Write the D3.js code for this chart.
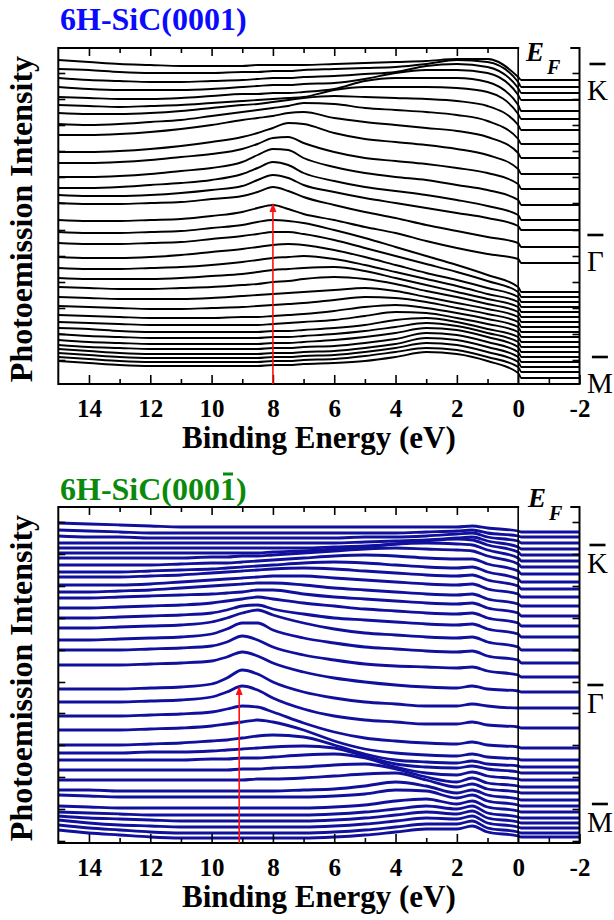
<!DOCTYPE html>
<html><head><meta charset="utf-8">
<script src="https://cdn.jsdelivr.net/npm/d3@7"></script>
<style>body{margin:0;background:#fff} svg{display:block}</style>
</head><body>
<svg id="c" width="614" height="920"></svg>
<script>
// ---------------- DATA ----------------
const energyTicksMajor = [14,12,10,8,6,4,2,0,-2];
const energyTicksMinor = [13,11,9,7,5,3,1,-1];
const pointLabels = ["K","Γ","M"];
const titleTop = "6H-SiC(0001)";
const titleBottom = "6H-SiC(0001)";
const xTitle = "Binding Energy (eV)";
const yTitle = "Photoemission Intensity";

// top panel (0001): energies (eV) of the sampled points
const energiesTop = [15,14,13,12,11,10,9,8.5,8,7.5,7,6,5,4,3,2,1,0,-0.1,-2];
// baseline offset of each spectrum (arbitrary units)
const offsetsTop = [304,297,291,284,273,265,254,240,226,210,195,179,164,154,137,121,92,87,82,77,72,67,62,57,52,47,42,37,32,27,22,17,12,6];
const spectraTop = [
[20,18,16,15,14,14,14,15,15,15,15,16,17,18,19,21,21,3,0,0],
[18,17,15,14,14,14,15,15,16,16,17,18,19,20,23,27,25,5,0,0],
[15,13,12,11,11,12,13,14,15,15,16,17,19,21,27,29,26,5,0,0],
[13,11,10,10,10,11,13,14,15,15,16,17,21,27,30,30,27,5,0,0],
[14,13,12,12,13,15,17,17,18,18,19,22,30,33,33,33,29,6,0,0],
[14,13,12,13,14,16,18,19,20,21,22,29,32,32,32,31,27,5,0,0],
[17,16,16,17,19,22,25,26,28,30,32,34,33,32,31,29,24,5,0,0],
[20,19,20,22,24,28,32,34,36,38,41,40,36,34,32,29,23,5,0,0],
[23,23,24,26,29,33,38,40,42,45,46,40,36,33,30,27,21,5,0,0],
[22,22,23,25,28,32,37,41,46,51,50,41,35,32,29,25,19,5,0,0],
[26,26,27,29,32,35,40,45,51,52,46,37,31,28,25,21,16,5,0,0],
[28,28,29,31,34,37,43,50,56,55,47,38,32,28,25,20,15,5,0,0],
[32,32,33,35,37,40,46,52,58,55,47,39,33,29,25,20,14,5,0,0],
[35,34,34,35,37,40,44,50,55,52,45,38,32,27,22,17,12,4,0,0],
[44,43,43,44,45,48,51,55,60,56,50,42,35,29,22,16,10,4,0,0],
[43,42,42,43,44,47,51,55,58,54,49,43,36,30,22,15,9,4,0,0],
[60,59,59,60,61,64,67,70,72,71,69,62,54,45,36,27,17,5,0,0],
[54,53,53,54,55,58,61,63,65,65,63,57,49,41,33,25,16,5,0,0],
[45,44,44,45,47,50,53,55,57,58,57,52,45,37,29,22,14,5,0,0],
[39,38,38,39,40,42,45,47,49,50,51,48,42,35,28,21,13,5,0,0],
[34,33,33,33,34,36,38,40,42,43,44,45,41,34,27,20,13,5,0,0],
[30,29,28,28,29,30,32,33,35,36,38,40,38,33,26,20,13,5,0,0],
[25,24,23,23,23,24,26,27,28,29,30,32,34,31,25,19,13,5,0,0],
[21,20,19,18,18,19,20,21,22,23,24,27,30,29,25,19,13,5,0,0],
[17,16,15,14,14,14,15,15,16,17,18,21,25,27,24,19,13,5,0,0],
[15,14,13,12,12,12,12,12,13,14,15,17,21,25,24,19,13,5,0,0],
[14,13,11,10,10,10,10,10,11,11,12,14,17,22,24,20,13,5,0,0],
[13,11,10,9,9,9,9,9,10,10,11,13,16,20,24,21,14,5,0,0],
[12,10,9,8,8,8,8,8,9,9,10,12,15,19,24,22,15,5,0,0],
[12,10,9,8,8,8,8,8,9,9,10,11,14,18,24,22,15,5,0,0],
[13,11,9,8,8,8,8,8,9,9,10,11,14,18,24,22,15,5,0,0],
[14,12,10,9,9,9,9,9,10,10,11,12,15,19,24,22,15,5,0,0],
[15,13,11,10,10,10,10,10,11,11,12,13,16,20,24,22,15,5,0,0],
[17,15,13,12,12,12,12,12,13,13,14,15,17,21,26,24,17,5,0,0]
];
const yTicksTop = [24,50,76,102,128,154,181,207,233,259,285,311];
const arrowTop = {energy: 8.0, tip: 181};

// bottom panel (000-1)
const energiesBottom = [15,14,13,12,11,10,9.5,9,8.5,8,7,6,5,4,3,2,1.5,1,0,-0.1,-2];
const offsetsBottom = [311,306,300,294,288,282,276,269,261,254,246,237,227,217,206,193,180,166,151,135,115,95,83,76,70,63,56,50,43,37,31,25,20,15,10,6];
const spectraBottom = [
[9,8,7,6,5,5,5,5,5,5,5,5,5,5,5,5,6,4,1,0,0],
[7,6,5,4,4,4,4,4,4,4,4,4,4,4,5,6,7,4,1,0,0],
[7,6,6,5,5,5,5,5,5,5,5,5,6,6,7,9,10,6,2,0,0],
[6,6,6,6,6,6,6,6,6,6,6,6,7,8,9,11,12,8,2,0,0],
[7,7,7,7,7,7,7,7,7,7,7,8,9,11,14,16,15,10,3,0,0],
[8,8,8,8,8,8,8,8,8,9,10,12,14,17,18,17,16,11,3,0,0],
[9,9,9,9,9,10,10,11,11,12,14,16,18,19,18,17,16,11,3,0,0],
[9,9,9,9,10,11,11,12,13,14,16,18,19,18,16,15,15,10,3,0,0],
[10,10,10,11,12,13,14,15,16,17,19,20,19,17,15,14,15,10,3,0,0],
[12,12,12,13,14,16,17,18,19,20,21,20,18,16,14,13,14,9,3,0,0],
[12,12,12,13,15,17,18,19,20,21,21,19,17,15,13,12,13,8,3,0,0],
[14,14,15,16,18,20,21,22,23,23,21,18,16,14,12,11,12,7,2,0,0],
[18,18,19,20,21,22,23,24,26,26,22,19,17,15,13,12,13,8,3,0,0],
[18,18,19,20,21,23,25,27,29,27,23,20,17,15,13,12,13,8,3,0,0],
[19,19,20,21,22,24,27,31,32,28,23,19,17,15,13,12,13,8,3,0,0],
[22,22,23,24,25,28,32,37,40,35,27,21,17,15,13,12,13,8,3,0,0],
[23,23,24,25,26,29,34,40,40,33,25,20,16,14,12,11,12,7,3,0,0],
[27,27,27,28,29,31,35,41,37,30,22,17,13,11,10,9,10,6,2,0,0],
[27,27,27,28,29,31,35,40,36,29,20,14,10,7,5,4,6,3,1,0,0],
[19,19,19,20,21,24,30,38,34,26,16,10,6,4,2,2,4,2,0,0,0],
[26,26,26,27,28,31,36,42,38,30,19,12,8,6,4,4,6,3,1,0,0],
[32,32,32,33,34,36,39,42,41,36,25,16,10,7,5,4,6,3,1,0,0],
[30,30,30,31,32,34,36,38,40,38,30,19,11,7,5,4,6,3,1,0,0],
[22,22,22,23,24,26,27,29,31,32,30,22,13,7,5,4,6,3,1,0,0],
[20,20,20,21,21,22,23,24,25,26,27,25,17,9,6,5,7,4,1,0,0],
[20,20,20,20,20,21,21,22,22,23,25,26,22,13,7,5,8,4,1,0,0],
[17,17,17,17,17,17,17,18,18,19,20,22,23,18,10,5,9,4,1,0,0],
[13,13,13,13,13,13,13,13,14,14,15,17,19,20,13,6,9,4,1,0,0],
[10,10,9,9,9,9,9,9,9,9,10,11,14,18,14,7,10,5,1,0,0],
[11,10,9,9,9,9,9,9,9,9,9,10,12,16,15,8,11,5,1,0,0],
[6,5,4,4,4,4,4,4,4,4,4,5,7,11,13,8,11,5,1,0,0],
[6,5,4,3,3,3,3,3,3,3,3,4,6,9,12,9,12,5,1,0,0],
[7,5,4,3,2,2,2,2,2,2,2,3,5,8,11,9,12,5,1,0,0],
[8,5,3,2,1,1,1,1,1,1,1,2,4,7,10,9,12,5,1,0,0],
[8,5,3,1,0,0,0,0,0,0,0,1,3,6,9,9,12,5,1,0,0],
[7,4,2,0,-1,-1,-1,-1,-1,-1,-1,0,2,5,8,8,11,5,1,0,0]
];
const yTicksBottom = [2,34,66,98,130,161,193,225,257,289,321];
const arrowBottom = {energy: 9.1, tip: 157};

// ---------------- DRAWING ----------------
const svg = d3.select("#c");
const SERIF = "'Liberation Serif','Times New Roman',serif";
const x = d3.scaleLinear().domain([15,-2]).range([58.3,579.5]);

function panel(cfg){
  const y = d3.scaleLinear().domain([0,336]).range([cfg.bottom, cfg.top]);
  const g = svg.append("g");
  const line = d3.line()
    .x((d,i)=>x(cfg.energies[i]))
    .y(d=>y(d))
    .curve(d3.curveMonotoneX);
  const series = cfg.spectra.map((s,i)=>s.map(h=>h+cfg.offsets[i]));
  g.append("g").selectAll("path").data(series).join("path")
    .attr("d", line)
    .attr("fill","none")
    .attr("stroke", cfg.color)
    .attr("stroke-width", cfg.sw)
    .attr("stroke-linejoin","round");

  // E = 0 line
  g.append("line").attr("x1",x(0)).attr("x2",x(0))
    .attr("y1",cfg.top).attr("y2",cfg.bottom)
    .attr("stroke","#000").attr("stroke-width",1.6);

  // axes
  const bottomMajor = d3.axisBottom(x).tickValues(energyTicksMajor).tickSize(-9)
    .tickPadding(15).tickFormat(d=>String(d));
  const bottomMinor = d3.axisBottom(x).tickValues(energyTicksMinor).tickSize(-5).tickFormat("");
  const ab = g.append("g").attr("transform",`translate(0,${cfg.bottom})`).call(bottomMajor);
  ab.selectAll("text").attr("font-family",SERIF).attr("font-weight","bold")
    .attr("font-size",25).attr("fill","#000");
  g.append("g").attr("transform",`translate(0,${cfg.bottom})`).call(bottomMinor);
  const topMajor = d3.axisTop(x).tickValues(energyTicksMajor.filter(d=>d>0)).tickSize(-8).tickFormat("");
  const topMinor = d3.axisTop(x).tickValues(energyTicksMinor.filter(d=>d>0)).tickSize(-5).tickFormat("");
  g.append("g").attr("transform",`translate(0,${cfg.top})`).call(topMajor);
  g.append("g").attr("transform",`translate(0,${cfg.top})`).call(topMinor);
  const left = d3.axisLeft(y).tickValues(cfg.yTicks).tickSize(-7).tickFormat("");
  const right = d3.axisRight(y).tickValues(cfg.yTicks).tickSize(-7).tickFormat("");
  g.append("g").attr("transform",`translate(${x(15)},0)`).call(left);
  g.append("g").attr("transform",`translate(${x(-2)},0)`).call(right);
  g.selectAll(".domain").remove();
  g.selectAll(".tick line").attr("stroke","#000").attr("stroke-width",1.6);

  // frame
  g.append("rect").attr("x",x(15)).attr("y",cfg.top)
    .attr("width",x(-2)-x(15)).attr("height",cfg.bottom-cfg.top)
    .attr("fill","none").attr("stroke","#000").attr("stroke-width",2);
  // gap in frame for E_F
  g.append("rect").attr("x",x(0)+1).attr("y",cfg.top-4)
    .attr("width",x(-1.7)-x(0)-1).attr("height",8).attr("fill","#fff");
  g.append("text").attr("x",cfg.efx).attr("y",cfg.efy)
    .attr("font-family",SERIF).attr("font-weight","bold").attr("font-style","italic")
    .attr("font-size",27).text("E");
  g.append("text").attr("x",cfg.efx+21).attr("y",cfg.efy+13)
    .attr("font-family",SERIF).attr("font-weight","bold").attr("font-style","italic")
    .attr("font-size",20).text("F");

  // arrow
  const ax = x(cfg.arrow.energy), ay = y(cfg.arrow.tip);
  g.append("line").attr("x1",ax).attr("x2",ax).attr("y1",cfg.bottom).attr("y2",ay+6)
    .attr("stroke","#ff1010").attr("stroke-width",1.6);
  g.append("path").attr("d",`M${ax},${ay} L${ax-3.5},${ay+9} L${ax+3.5},${ay+9} Z`)
    .attr("fill","#ff1010");

  // titles
  const tt = g.append("text").attr("x",60).attr("y",cfg.titleY)
    .attr("font-family",SERIF).attr("font-weight","bold").attr("font-size",32)
    .attr("fill",cfg.titleColor).text(cfg.title);
  if(cfg.barLast){
    const n = cfg.title.length-2;
    const ex = tt.node().getExtentOfChar(n);
    g.append("line").attr("x1",ex.x+3).attr("x2",ex.x+ex.width-3)
      .attr("y1",cfg.titleY-26).attr("y2",cfg.titleY-26)
      .attr("stroke",cfg.titleColor).attr("stroke-width",3);
  }
  g.append("text").attr("x",(x(15)+x(-2))/2).attr("y",cfg.bottom+64)
    .attr("text-anchor","middle").attr("font-family",SERIF).attr("font-weight","bold")
    .attr("font-size",31).text(xTitle);
  g.append("text").attr("transform",`translate(32,${(cfg.top+cfg.bottom)/2+3}) rotate(-90)`)
    .attr("text-anchor","middle").attr("font-family",SERIF).attr("font-weight","bold")
    .attr("font-size",32).text(yTitle);

  // symmetry points
  pointLabels.forEach((lab,i)=>{
    const by = cfg.labelY[i];
    const t = g.append("text").attr("x",587).attr("y",by)
      .attr("font-family",SERIF).attr("font-size",29).text(lab);
    const bb = t.node().getBBox();
    const cx = bb.x + bb.width/2;
    g.append("line").attr("x1",cx-8).attr("x2",cx+8)
      .attr("y1",by-cfg.barOff).attr("y2",by-cfg.barOff)
      .attr("stroke","#000").attr("stroke-width",2.6);
  });
}

panel({top:48, bottom:384, energies:energiesTop, offsets:offsetsTop, spectra:spectraTop,
  color:"#000", sw:1.9, yTicks:yTicksTop, arrow:arrowTop, efx:526, efy:61,
  title:titleTop, titleY:30, titleColor:"#0a0aff", barLast:false,
  labelY:[100,271,393], barOff:36});
panel({top:507, bottom:843, energies:energiesBottom, offsets:offsetsBottom, spectra:spectraBottom,
  color:"#10109c", sw:2.8, yTicks:yTicksBottom, arrow:arrowBottom, efx:528, efy:507,
  title:titleBottom, titleY:500, titleColor:"#0a8a0a", barLast:true,
  labelY:[573,713,832], barOff:28});
</script>
</body></html>
